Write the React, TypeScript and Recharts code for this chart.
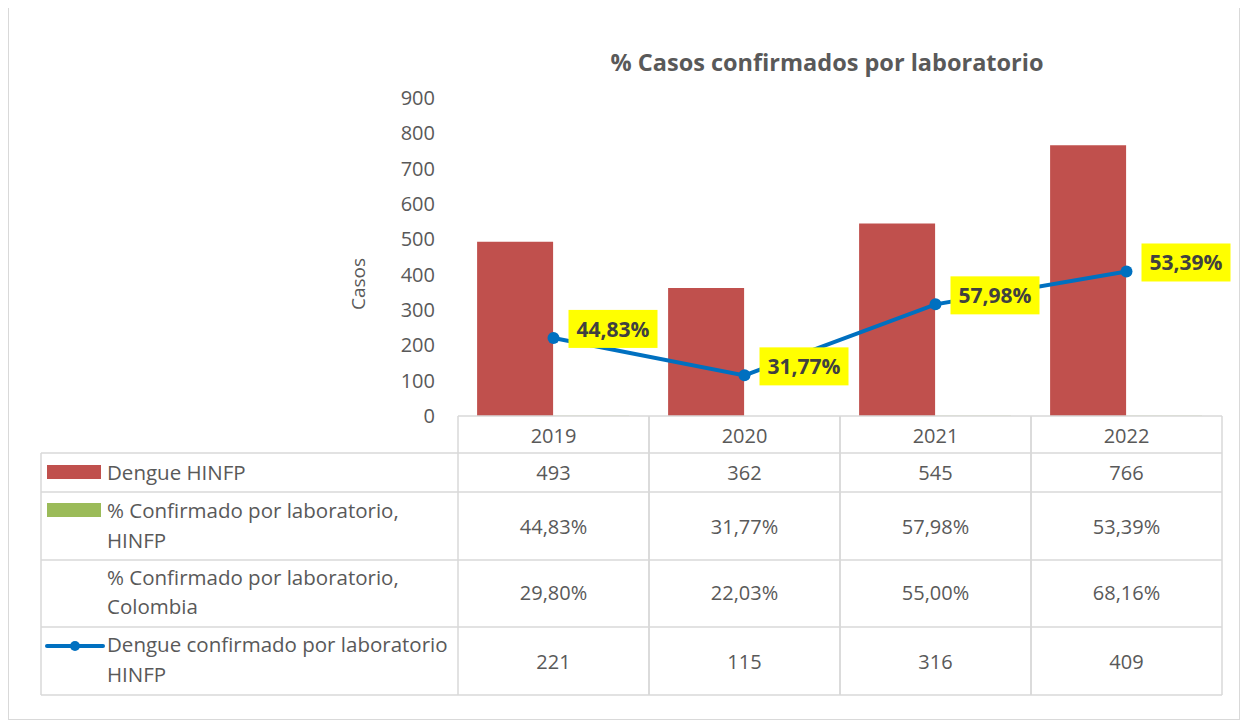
import React, { CSSProperties } from "react";
import {
    ComposedChart,
    Bar,
    Line,
    XAxis,
    YAxis,
    LabelList,
} from "recharts";

const years = ["2019", "2020", "2021", "2022"];
const dengueHinfp = [493, 362, 545, 766];
const pctHinfp = [44.83, 31.77, 57.98, 53.39];
const pctColombia = [29.8, 22.03, 55.0, 68.16];
const confirmedHinfp = [221, 115, 316, 409];
const yTicks = [0, 100, 200, 300, 400, 500, 600, 700, 800, 900];

// the % series sits on the "Casos" axis as a fraction, so its bar is flat
const data = years.map((year, i) => ({
    year,
    dengue: dengueHinfp[i],
    pct: pctHinfp[i],
    pctFrac: pctHinfp[i] / 100,
    colombia: pctColombia[i],
    confirmed: confirmedHinfp[i],
}));

const RED = "#C0504D";
const GREEN = "#9BBB59";
const BLUE = "#0070C0";
const TEXT = "#595959";
const GRID = "#D9D9D9";
const FONT = "'Open Sans', sans-serif";

const COL_W = 191;
const LEFT_W = 417;
const ROW_LINES = [37, 76, 144, 211, 279];

const fmtPct = (v: number) => v.toFixed(2).replace(".", ",") + "%";

function CellText({ x, y, value }: any) {
    return (
        <text
            x={x}
            y={y}
            textAnchor="middle"
            dominantBaseline="central"
            fill={TEXT}
            fontSize={20}
            fontFamily={FONT}
        >
            {value}
        </text>
    );
}

function LegendText({ x, y, lines }: any) {
    return (
        <text fill={TEXT} fontSize={20.5} fontFamily={FONT}>
            {lines.map((l: string, k: number) => (
                <tspan key={k} x={x} y={y[k]} dominantBaseline="central">
                    {l}
                </tspan>
            ))}
        </text>
    );
}

function TableTick(props: any) {
    const { x, y, index } = props;
    const d = data[index];
    const l = x - COL_W / 2;
    const r = x + COL_W / 2;
    const bottom = y + ROW_LINES[ROW_LINES.length - 1];
    const lx = l - LEFT_W;
    return (
        <g>
            <line x1={l} y1={y} x2={l} y2={bottom} stroke={GRID} strokeWidth={1.5} />
            <line x1={r} y1={y} x2={r} y2={bottom} stroke={GRID} strokeWidth={1.5} />
            {ROW_LINES.map((ry) => (
                <line key={ry} x1={l} y1={y + ry} x2={r} y2={y + ry} stroke={GRID} strokeWidth={1.5} />
            ))}
            <CellText x={x} y={y + 19} value={d.year} />
            <CellText x={x} y={y + 56} value={d.dengue} />
            <CellText x={x} y={y + 110} value={fmtPct(d.pct)} />
            <CellText x={x} y={y + 176} value={fmtPct(d.colombia)} />
            <CellText x={x} y={y + 245} value={d.confirmed} />
            {index === 0 && (
                <g>
                    <line x1={lx} y1={y + ROW_LINES[0]} x2={lx} y2={bottom} stroke={GRID} strokeWidth={1.5} />
                    {ROW_LINES.map((ry) => (
                        <line key={ry} x1={lx} y1={y + ry} x2={l} y2={y + ry} stroke={GRID} strokeWidth={1.5} />
                    ))}
                    <rect x={lx + 6} y={y + 49} width={54} height={14} fill={RED} />
                    <rect x={lx + 6} y={y + 87} width={54} height={14} fill={GREEN} />
                    <line x1={lx + 6} y1={y + 230} x2={lx + 62} y2={y + 230} stroke={BLUE} strokeWidth={4} strokeLinecap="round" />
                    <circle cx={lx + 34} cy={y + 230} r={5} fill={BLUE} />
                    <LegendText x={lx + 66} y={[y + 56]} lines={["Dengue HINFP"]} />
                    <LegendText
                        x={lx + 66}
                        y={[y + 94, y + 124]}
                        lines={["% Confirmado por laboratorio,", "HINFP"]}
                    />
                    <LegendText
                        x={lx + 66}
                        y={[y + 161, y + 190]}
                        lines={["% Confirmado por laboratorio,", "Colombia"]}
                    />
                    <LegendText
                        x={lx + 66}
                        y={[y + 228, y + 258]}
                        lines={["Dengue confirmado por laboratorio", "HINFP"]}
                    />
                </g>
            )}
        </g>
    );
}

function PctLabel(props: any) {
    const { x, y, value } = props;
    const bx = x + 15;
    const cy = y - 9;
    return (
        <g>
            <rect x={bx} y={cy - 19} width={89} height={38} fill="#FFFF00" />
            <text
                x={bx + 44.5}
                y={cy}
                textAnchor="middle"
                dominantBaseline="central"
                fill="#404040"
                fontSize={21}
                fontWeight="bold"
                fontFamily={FONT}
            >
                {fmtPct(value)}
            </text>
        </g>
    );
}

function CasosLabel(props: any) {
    const { viewBox } = props;
    const cx = viewBox.x - 20;
    const cy = viewBox.y + viewBox.height / 2 + 27;
    return (
        <text
            transform={`translate(${cx},${cy}) rotate(-90)`}
            textAnchor="middle"
            dominantBaseline="central"
            fill={TEXT}
            fontSize={19}
            fontFamily={FONT}
        >
            Casos
        </text>
    );
}

export default function App() {
    return (
        <div style={frameStyle}>
            <div style={titleStyle}>% Casos confirmados por laboratorio</div>
            <div style={chartWrapStyle}>
                <ComposedChart
                    width={1230}
                    height={711}
                    data={data}
                    margin={{ top: 90, right: 17, left: 369, bottom: 24 }}
                    barCategoryGap="10%"
                    barGap={0}
                >
                    <XAxis
                        dataKey="year"
                        height={279}
                        interval={0}
                        tickLine={false}
                        tickSize={0}
                        tickMargin={0}
                        axisLine={{ stroke: GRID, strokeWidth: 1.5 }}
                        tick={<TableTick />}
                    />
                    <YAxis
                        width={80}
                        domain={[0, 900]}
                        ticks={yTicks}
                        interval={0}
                        axisLine={false}
                        tickLine={false}
                        tickSize={0}
                        tickMargin={23}
                        tick={{ fill: TEXT, fontSize: 20, fontFamily: FONT }}
                        label={<CasosLabel />}
                    />
                    <Bar dataKey="dengue" fill={RED} isAnimationActive={false} />
                    <Bar dataKey="pctFrac" fill={GREEN} isAnimationActive={false} />
                    <Line
                        dataKey="confirmed"
                        stroke={BLUE}
                        strokeWidth={4}
                        dot={{ r: 6, fill: BLUE, stroke: BLUE, strokeWidth: 0 }}
                        isAnimationActive={false}
                    >
                        <LabelList dataKey="pct" content={<PctLabel />} />
                    </Line>
                </ComposedChart>
            </div>
        </div>
    );
}

const frameStyle: CSSProperties = {
    position: "relative",
    boxSizing: "border-box",
    width: 1232,
    height: 713,
    marginTop: -1,
    border: "1px solid #D9D9D9",
    background: "#FFFFFF",
};

const titleStyle: CSSProperties = {
    position: "absolute",
    left: 440,
    width: 756,
    top: 40,
    textAlign: "center",
    fontFamily: FONT,
    fontWeight: "bold",
    fontSize: 23.5,
    color: TEXT,
    lineHeight: "28px",
};

const chartWrapStyle: CSSProperties = {
    position: "absolute",
    left: 0,
    top: 0,
};
